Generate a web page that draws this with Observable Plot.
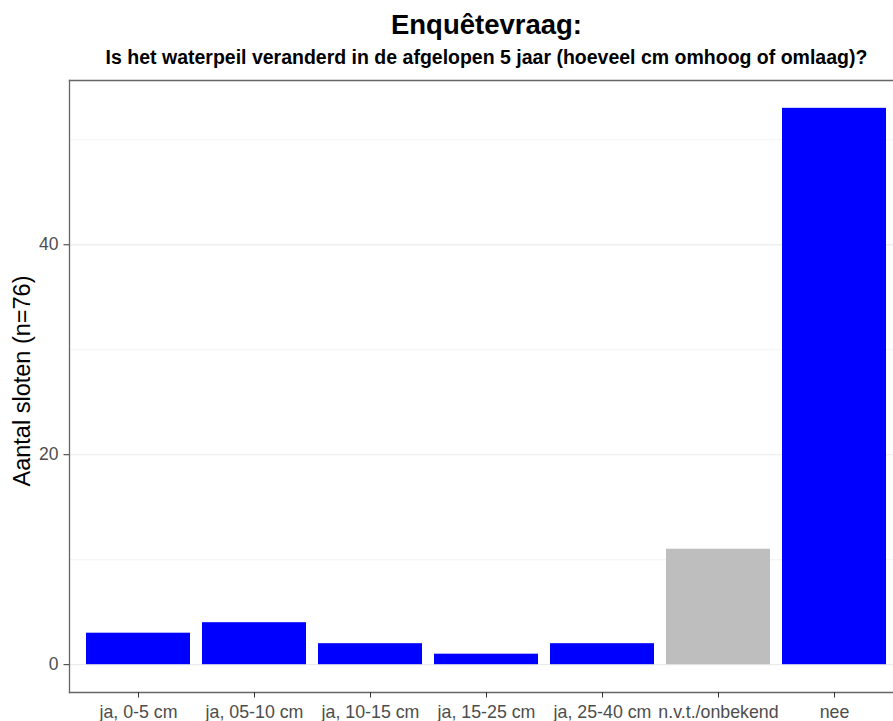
<!DOCTYPE html>
<html><head><meta charset="utf-8">
<script src="https://cdn.jsdelivr.net/npm/d3@7"></script>
<script src="https://cdn.jsdelivr.net/npm/@observablehq/plot@0.6"></script>
<style>
body{margin:0;background:#fff;overflow:hidden;width:893px;height:721px;font-family:"Liberation Sans",Arial,sans-serif}
#head{position:relative;height:78px;width:893px;overflow:hidden}
.t{position:absolute;left:0;width:973px;text-align:center;font-weight:bold;color:#000;white-space:nowrap;line-height:1}
#chart svg{display:block}
</style></head><body>
<div id="head">
  <div class="t" id="title" style="font-size:27.5px;top:10.7px"></div>
  <div class="t" id="subtitle" style="font-size:19.5px;top:47.5px"></div>
</div>
<div id="chart"></div>
<script>
const titleText = "Enquêtevraag:";
const subtitleText = "Is het waterpeil veranderd in de afgelopen 5 jaar (hoeveel cm omhoog of omlaag)?";
const yLabel = "Aantal sloten (n=76)";
const categories = ["ja, 0-5 cm", "ja, 05-10 cm", "ja, 10-15 cm", "ja, 15-25 cm", "ja, 25-40 cm", "n.v.t./onbekend", "nee"];
const counts = [3, 4, 2, 1, 2, 11, 53];
const answerType = ["ja", "ja", "ja", "ja", "ja", "onbekend", "nee"];
const yTicks = [0, 20, 40];
const yMinorTicks = [10, 30, 50];

document.getElementById("title").textContent = titleText;
document.getElementById("subtitle").textContent = subtitleText;

const data = categories.map((c, i) => ({cat: c, n: counts[i], type: answerType[i]}));
const yMax = d3.max(counts);
const pad = yMax * 0.05;

const chart = Plot.plot({
  width: 893,
  height: 643,
  marginLeft: 69,
  marginRight: 0,
  marginTop: 2,
  marginBottom: 29,
  style: {fontFamily: '"Liberation Sans", Arial, sans-serif', background: "white", overflow: "hidden"},
  x: {type: "band", domain: categories, range: [69, 904.2], paddingInner: 0.1, paddingOuter: 0.15, label: null},
  y: {domain: [-pad, yMax + pad], label: null},
  marks: [
    Plot.ruleY(yMinorTicks, {stroke: "#f2f2f2", strokeWidth: 0.9}),
    Plot.ruleY(yTicks, {stroke: "#ebebeb", strokeWidth: 1.2}),
    Plot.barY(data, {x: "cat", y: "n", fill: d => d.type === "onbekend" ? "#bebebe" : "#0000ff"}),
    Plot.frame({anchor: "left", stroke: "#666", strokeWidth: 1.3}),
    Plot.frame({anchor: "top", stroke: "#666", strokeWidth: 1.3}),
    Plot.frame({anchor: "bottom", stroke: "#666", strokeWidth: 1.3}),
    Plot.axisY(yTicks, {tickSize: 5.5, text: null, stroke: "#333", label: null}),
    Plot.axisY(yTicks, {tickSize: 0, tickPadding: 11, fontSize: 17.5, fill: "#4d4d4d", label: null}),
    Plot.axisX({tickSize: 5.5, text: null, stroke: "#333", label: null}),
    Plot.axisX({tickSize: 0, tickPadding: 12.5, fontSize: 17.8, fill: "#4d4d4d", label: null}),
    Plot.text([yLabel], {frameAnchor: "left", textAnchor: "middle", dx: -47, dy: -5.5, rotate: -90, fontSize: 23.5, fill: "black"})
  ]
});
document.getElementById("chart").appendChild(chart);
</script>
</body></html>
